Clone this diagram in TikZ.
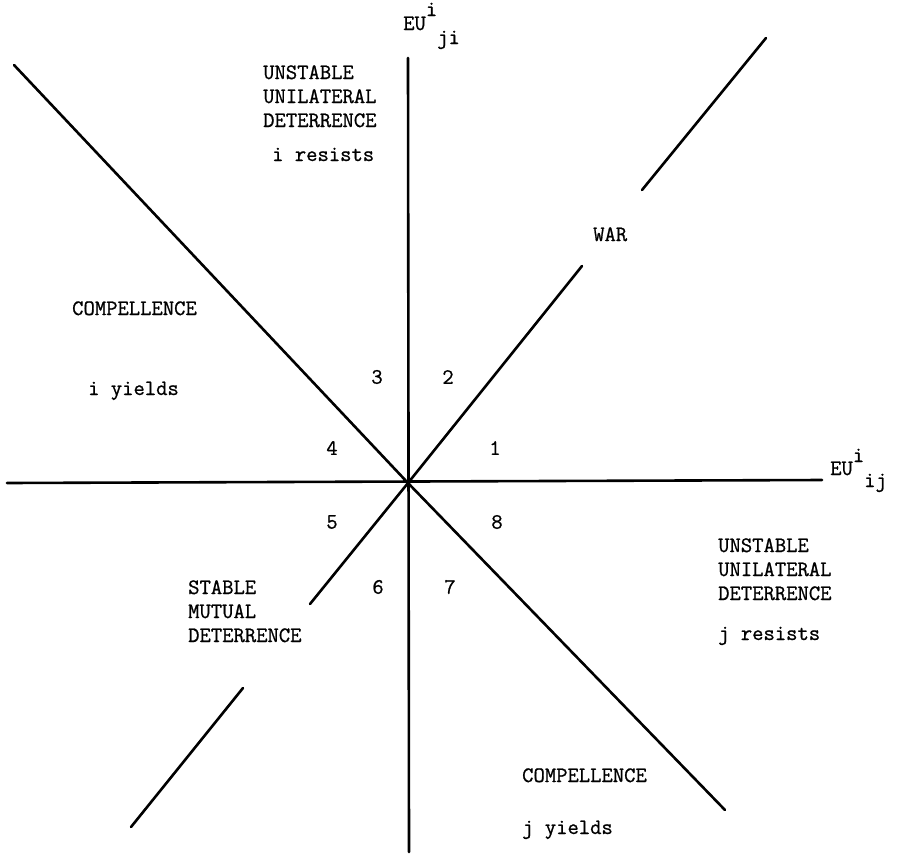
\documentclass[tikz,border=0pt]{standalone}
\usepackage{fontspec}
\setmonofont{Latin Modern Mono}[FakeBold=0.9]
\begin{document}
\begin{tikzpicture}[x=1pt,y=-1pt,
  ln/.style={line width=2.6pt, line cap=round},
  lab/.style={anchor=base west, inner sep=0pt, font=\ttfamily\fontsize{22}{24}\selectfont},
  num/.style={anchor=center, inner sep=0pt, font=\ttfamily\fontsize{22}{24}\selectfont}]
\useasboundingbox (0,0) rectangle (900,860);
\fill[white] (0,0) rectangle (900,860);
% coordinates
\coordinate (O) at (408,483);
\coordinate (xl) at (7,483);
\coordinate (xr) at (822,480);
\coordinate (yt) at (408,58);
\coordinate (yb) at (409,852);
\coordinate (nw) at (14,65);
\coordinate (se) at (725,810);
\coordinate (ne1) at (582,266);
\coordinate (ne2) at (642,190);
\coordinate (ne3) at (766,38);
\coordinate (sw1) at (310,604);
\coordinate (sw2) at (243,688);
\coordinate (sw3) at (131,827);
% lines
\draw[ln] (xl) -- (xr);
\draw[ln] (yt) -- (yb);
\draw[ln] (nw) -- (O) -- (se);
\draw[ln] (O) -- (ne1);
\draw[ln] (ne2) -- (ne3);
\draw[ln] (O) -- (sw1);
\draw[ln] (sw2) -- (sw3);
% axis labels
\node[lab] (eyji) at (403,30) {EU\raisebox{14pt}{i}\raisebox{-14pt}{ji}};
\node[lab] (eyij) at (830,475) {EU\raisebox{13pt}{i}\raisebox{-12pt}{ij}};
% region labels
\node[lab] (u1) at (263,79) {UNSTABLE};
\node[lab] (u2) at (263,103) {UNILATERAL};
\node[lab] (u3) at (263,127) {DETERRENCE};
\node[lab] (ir) at (272,161) {i resists};
\node[lab] (war) at (593,241) {WAR};
\node[lab] (c1) at (72,315) {COMPELLENCE};
\node[lab] (iy) at (88,395) {i yields};
\node[lab] (r1) at (718,552) {UNSTABLE};
\node[lab] (r2) at (718,576) {UNILATERAL};
\node[lab] (r3) at (718,600) {DETERRENCE};
\node[lab] (jr) at (718,640) {j resists};
\node[lab] (s1) at (188,594) {STABLE};
\node[lab] (s2) at (188,618) {MUTUAL};
\node[lab] (s3) at (188,642) {DETERRENCE};
\node[lab] (c2) at (522,782) {COMPELLENCE};
\node[lab] (jy) at (522,834) {j yields};
% sector numbers
\node[num] (n1) at (495,448) {1};
\node[num] (n2) at (448,377) {2};
\node[num] (n3) at (377,377) {3};
\node[num] (n4) at (332,448) {4};
\node[num] (n5) at (332,522) {5};
\node[num] (n6) at (378,587) {6};
\node[num] (n7) at (450,587) {7};
\node[num] (n8) at (497,522) {8};
\end{tikzpicture}
\end{document}
